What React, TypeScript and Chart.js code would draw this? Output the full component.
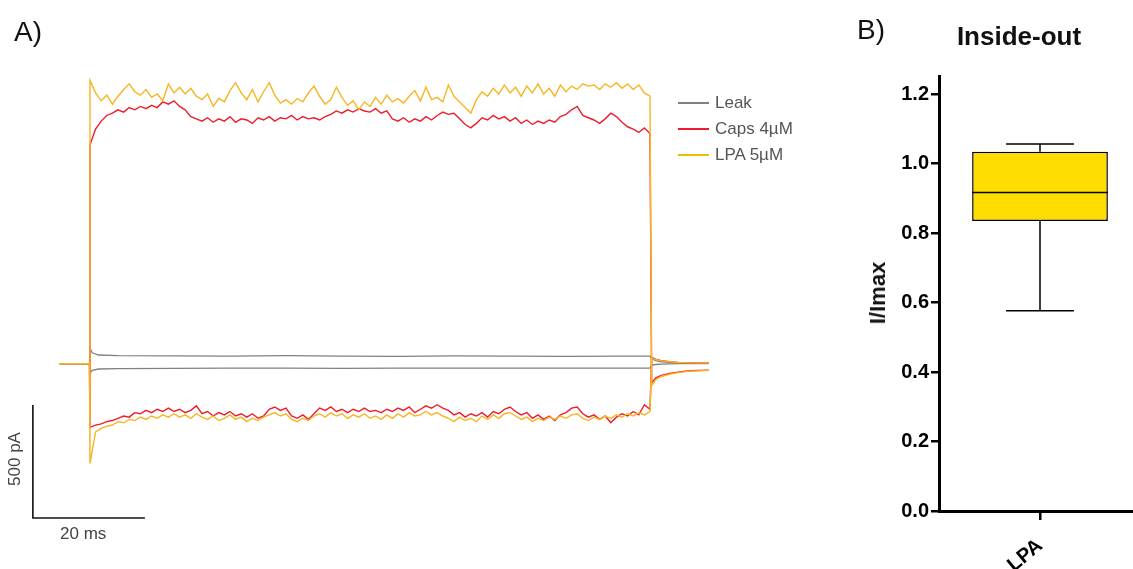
import React, { useEffect, useRef } from 'react';
import { Chart, registerables } from 'chart.js';
Chart.register(...registerables);

// ---------- Panel A: current traces (time in ms, current in pA) ----------
const PRE_T = [-5.4, -0.1];
const PRE_I = [2, 2];
const PULSE_T = [
  0, 1, 2, 3, 4, 5, 6, 7, 8, 9,
  10, 11, 12, 13, 14, 15, 16, 17, 18, 19,
  20, 21, 22, 23, 24, 25, 26, 27, 28, 29,
  30, 31, 32, 33, 34, 35, 36, 37, 38, 39,
  40, 41, 42, 43, 44, 45, 46, 47, 48, 49,
  50, 51, 52, 53, 54, 55, 56, 57, 58, 59,
  60, 61, 62, 63, 64, 65, 66, 67, 68, 69,
  70, 71, 72, 73, 74, 75, 76, 77, 78, 79,
  80, 81, 82, 83, 84, 85, 86, 87, 88, 89,
  90, 91, 92, 93, 94, 95, 96, 97, 98, 99,
  100,
];
const TAIL_T = [100.3, 101, 102, 103.5, 105, 107, 110.5];

const LPA_POS = [
  1255, 1200, 1165, 1190, 1150, 1185, 1215, 1240, 1205, 1190,
  1215, 1180, 1195, 1165, 1240, 1200, 1225, 1195, 1220, 1185,
  1170, 1195, 1140, 1175, 1160, 1210, 1245, 1200, 1170, 1215,
  1160, 1205, 1245, 1190, 1155, 1170, 1150, 1175, 1160, 1200,
  1230, 1185, 1150, 1170, 1225, 1180, 1145, 1165, 1125, 1160,
  1140, 1180, 1150, 1190, 1160, 1175, 1155, 1185, 1210, 1165,
  1225, 1170, 1180, 1160, 1235, 1185, 1160, 1135, 1110, 1170,
  1205, 1185, 1220, 1195, 1235, 1200, 1225, 1185, 1230, 1200,
  1240, 1195, 1220, 1185, 1235, 1205, 1230, 1215, 1240, 1230,
  1235, 1215, 1240, 1225, 1245, 1220, 1240, 1215, 1235, 1200,
  1185,
];
const CAPS_POS = [
  970, 1040, 1075, 1100, 1110, 1125, 1115, 1135, 1125, 1140,
  1130, 1145, 1135, 1160, 1150, 1165, 1140, 1125, 1095, 1085,
  1075, 1090, 1070, 1085, 1075, 1095, 1070, 1085, 1080, 1065,
  1090, 1080, 1095, 1075, 1090, 1085, 1100, 1080, 1095, 1085,
  1090, 1080, 1095, 1105, 1120, 1110, 1125, 1115, 1130, 1120,
  1115, 1130, 1110, 1120, 1085, 1075, 1090, 1070, 1085, 1075,
  1095, 1080, 1100, 1115, 1105, 1110, 1085, 1060, 1045, 1065,
  1090, 1080, 1100, 1085, 1095, 1075, 1090, 1065, 1080, 1060,
  1075, 1065, 1080, 1070, 1095, 1105, 1125, 1140, 1100, 1090,
  1080, 1065, 1085, 1110, 1095, 1070, 1050, 1040, 1025, 1045,
  1020,
];
const CAPS_NEG = [
  -280, -270, -265, -255, -250, -240, -230, -235, -215, -220,
  -205, -215, -200, -210, -195, -210, -200, -215, -205, -185,
  -220, -210, -230, -215, -225, -210, -230, -220, -235, -220,
  -240, -230, -200, -190, -205, -195, -230, -240, -225, -245,
  -220, -195, -205, -190, -210, -200, -215, -200, -210, -195,
  -210, -205, -215, -200, -210, -195, -205, -190, -215, -200,
  -185, -195, -180, -195, -205, -225, -215, -235, -220, -230,
  -215, -235, -210, -220, -200, -190, -210, -225, -215, -240,
  -225, -245, -230, -250, -225, -215, -195, -190, -220, -235,
  -225, -245, -230, -260, -235, -220, -230, -210, -225, -180,
  -200,
];
const LPA_NEG = [
  -440, -300, -285, -275, -270, -255, -260, -245, -250, -235,
  -245, -230, -240, -225, -235, -220, -235, -225, -240, -220,
  -235, -245, -230, -250, -240, -225, -245, -235, -255, -240,
  -250, -235, -225, -215, -230, -220, -245, -255, -240, -250,
  -230, -220, -235, -215, -230, -220, -240, -225, -235, -220,
  -240, -230, -245, -225, -240, -220, -235, -215, -230, -225,
  -210, -225, -215, -230, -240, -255, -235, -250, -240, -255,
  -230, -245, -225, -240, -220, -215, -230, -245, -235, -255,
  -240, -250, -235, -245, -230, -240, -225, -220, -240, -250,
  -235, -245, -230, -240, -225, -235, -220, -230, -215, -225,
  -210,
];
const LPA_POS_TAIL = [-95, -70, -55, -45, -38, -32, -28];
const CAPS_POS_TAIL = [-85, -62, -50, -42, -36, -30, -27];
const LPA_NEG_TAIL = [28, 20, 14, 10, 7, 5, 4];
const CAPS_NEG_TAIL = [30, 22, 15, 10, 7, 5, 4];

const LEAK_T = [0, 0.4, 1.5, 5, 15, 25, 35, 45, 55, 65, 75, 85, 95, 100];
const LEAK_POS = [70, 50, 40, 37, 36, 35, 37, 35, 34, 36, 35, 34, 35, 35];
const LEAK_NEG = [-40, -28, -22, -20, -19, -18, -18, -19, -18, -18, -18, -18, -18, -18];
const LEAK_POS_TAIL = [25, 15, 10, 7, 5, 4, 3];
const LEAK_NEG_TAIL = [-6, -2, 0, 1, 2, 2, 2];

const SCALE_BAR_T = [-10.2, -10.2, 9.8];
const SCALE_BAR_I = [-181, -681, -681];

const LEGEND_A = ['Leak', 'Caps 4µM', 'LPA 5µM'];
const COLOR_LEAK = '#808080';
const COLOR_CAPS = '#EF1B2D';
const COLOR_LPA = '#F7B520';

// ---------- Panel B: box plot ----------
const BOX_LABELS = ['LPA'];
const BOX_MIN = [0.576];
const BOX_Q1 = [0.835];
const BOX_MEDIAN = [0.917];
const BOX_Q3 = [1.034];
const BOX_MAX = [1.056];
const Y_TICKS_B = [0, 0.2, 0.4, 0.6, 0.8, 1.0, 1.2];

const FONT = "'Liberation Sans', Arial, sans-serif";

const pts = (ts: number[], vs: number[]) => ts.map((t, i) => ({ x: t, y: vs[i] }));
const sweep = (pulseT: number[], pulse: number[], tail: number[]) => [
  ...pts(PRE_T, PRE_I),
  ...pts(pulseT, pulse),
  ...pts(TAIL_T, tail),
];

const boxPlugin = {
  id: 'boxWhiskers',
  afterDatasetsDraw(chart: any) {
    const { ctx, scales } = chart;
    const y = scales.y;
    const meta = chart.getDatasetMeta(0);
    meta.data.forEach((bar: any, i: number) => {
      const cx = bar.x;
      const half = bar.width / 2;
      const cap = half * 0.5;
      const yMed = y.getPixelForValue(BOX_MEDIAN[i]);
      const yQ1 = y.getPixelForValue(BOX_Q1[i]);
      const yQ3 = y.getPixelForValue(BOX_Q3[i]);
      const yMin = y.getPixelForValue(BOX_MIN[i]);
      const yMax = y.getPixelForValue(BOX_MAX[i]);
      ctx.save();
      ctx.strokeStyle = '#000';
      ctx.lineWidth = 1.5;
      ctx.beginPath();
      ctx.moveTo(cx - half, yMed);
      ctx.lineTo(cx + half, yMed);
      ctx.moveTo(cx, yQ3);
      ctx.lineTo(cx, yMax);
      ctx.moveTo(cx - cap, yMax);
      ctx.lineTo(cx + cap, yMax);
      ctx.moveTo(cx, yQ1);
      ctx.lineTo(cx, yMin);
      ctx.moveTo(cx - cap, yMin);
      ctx.lineTo(cx + cap, yMin);
      ctx.stroke();
      ctx.restore();
    });
  },
};

const abs = (extra: React.CSSProperties): React.CSSProperties => ({
  position: 'absolute',
  lineHeight: 1,
  whiteSpace: 'nowrap',
  fontFamily: FONT,
  ...extra,
});

export default function App() {
  const refA = useRef<HTMLCanvasElement>(null);
  const refB = useRef<HTMLCanvasElement>(null);

  useEffect(() => {
    const line = (data: any[], color: string, width = 1.4) => ({
      data,
      borderColor: color,
      borderWidth: width,
      pointRadius: 0,
      tension: 0,
      fill: false,
    });
    const chartA = new Chart(refA.current as HTMLCanvasElement, {
      type: 'line',
      data: {
        datasets: [
          line(pts(SCALE_BAR_T, SCALE_BAR_I), '#111', 1.6),
          line(sweep(PULSE_T, LPA_POS, LPA_POS_TAIL), COLOR_LPA),
          line(sweep(PULSE_T, LPA_NEG, LPA_NEG_TAIL), COLOR_LPA),
          line(sweep(PULSE_T, CAPS_POS, CAPS_POS_TAIL), COLOR_CAPS),
          line(sweep(PULSE_T, CAPS_NEG, CAPS_NEG_TAIL), COLOR_CAPS),
          line(sweep(LEAK_T, LEAK_POS, LEAK_POS_TAIL), COLOR_LEAK, 1.3),
          line(sweep(LEAK_T, LEAK_NEG, LEAK_NEG_TAIL), COLOR_LEAK, 1.3),
        ],
      },
      options: {
        animation: false,
        responsive: false,
        devicePixelRatio: 1,
        layout: { padding: 0 },
        plugins: { legend: { display: false }, tooltip: { enabled: false } },
        scales: {
          x: { type: 'linear', display: false, min: -16.07, max: 133.93 },
          y: { type: 'linear', display: false, min: -907, max: 1611 },
        },
      },
    } as any);

    const chartB = new Chart(refB.current as HTMLCanvasElement, {
      type: 'bar',
      data: {
        labels: BOX_LABELS,
        datasets: [
          {
            data: BOX_Q1.map((q, i) => [q, BOX_Q3[i]]),
            backgroundColor: '#FFDC00',
            borderColor: '#000',
            borderWidth: 1.5,
            borderSkipped: false,
            barPercentage: 0.672,
            categoryPercentage: 1,
          },
        ],
      },
      options: {
        animation: false,
        responsive: false,
        devicePixelRatio: 1,
        layout: { padding: { top: 76, right: 1, left: 0, bottom: 0 } },
        plugins: { legend: { display: false }, tooltip: { enabled: false } },
        scales: {
          x: {
            type: 'category',
            offset: true,
            grid: { offset: false, drawOnChartArea: false, drawTicks: true, tickLength: 9, color: '#000', lineWidth: 2.5 },
            border: { display: true, color: '#000', width: 3 },
            ticks: { minRotation: 40, maxRotation: 40, color: '#000', padding: 14, font: { family: FONT, size: 20, weight: 'bold' } },
            afterFit: (s: any) => { s.height = 58; },
          },
          y: {
            type: 'linear',
            min: 0,
            max: 1.252,
            afterBuildTicks: (s: any) => { s.ticks = Y_TICKS_B.map((v) => ({ value: v })); },
            ticks: {
              color: '#000',
              padding: 2,
              font: { family: FONT, size: 20, weight: 'bold' },
              callback: (v: any) => Number(v).toFixed(1),
            },
            grid: { drawOnChartArea: false, drawTicks: true, tickLength: 8, color: '#000', lineWidth: 2.5 },
            border: { display: true, color: '#000', width: 3 },
            afterFit: (s: any) => { s.width = 99; },
          },
        },
      },
      plugins: [boxPlugin],
    } as any);

    return () => {
      chartA.destroy();
      chartB.destroy();
    };
  }, []);

  const legendY = [103, 129, 155];
  const legendColors = [COLOR_LEAK, COLOR_CAPS, '#E8C000'];

  return (
    <div style={{ position: 'absolute', left: 0, top: 0, width: 1133, height: 569, overflow: 'hidden', background: '#fff' }}>
      <canvas ref={refA} width={840} height={569} style={{ position: 'absolute', left: 0, top: 0 }} />
      <canvas ref={refB} width={302} height={569} style={{ position: 'absolute', left: 840, top: 0 }} />

      <div style={abs({ left: 14, top: 18, fontSize: 28, color: '#111' })}>A)</div>
      <div style={abs({ left: 857, top: 16, fontSize: 28, color: '#111' })}>B)</div>
      <div style={abs({ left: 1019, top: 23, fontSize: 26, fontWeight: 'bold', color: '#111', transform: 'translateX(-50%)' })}>Inside-out</div>
      <div style={abs({ left: 878, top: 293, fontSize: 22, fontWeight: 'bold', color: '#111', transform: 'translate(-50%,-50%) rotate(-90deg)' })}>I/Imax</div>

      {LEGEND_A.map((lab, i) => (
        <React.Fragment key={lab}>
          <div style={{ position: 'absolute', left: 678, top: legendY[i] - 1, width: 31, height: 2, background: legendColors[i] }} />
          <div style={abs({ left: 715, top: legendY[i] + 5 - 0.8465 * 17, fontSize: 17, color: '#555' })}>{lab}</div>
        </React.Fragment>
      ))}

      <div style={abs({ left: 60, top: 539 - 0.8465 * 17, fontSize: 17, color: '#444' })}>20 ms</div>
      <div style={abs({ left: 14, top: 459, fontSize: 17, color: '#444', transform: 'translate(-50%,-50%) rotate(-90deg)' })}>500 pA</div>
    </div>
  );
}
